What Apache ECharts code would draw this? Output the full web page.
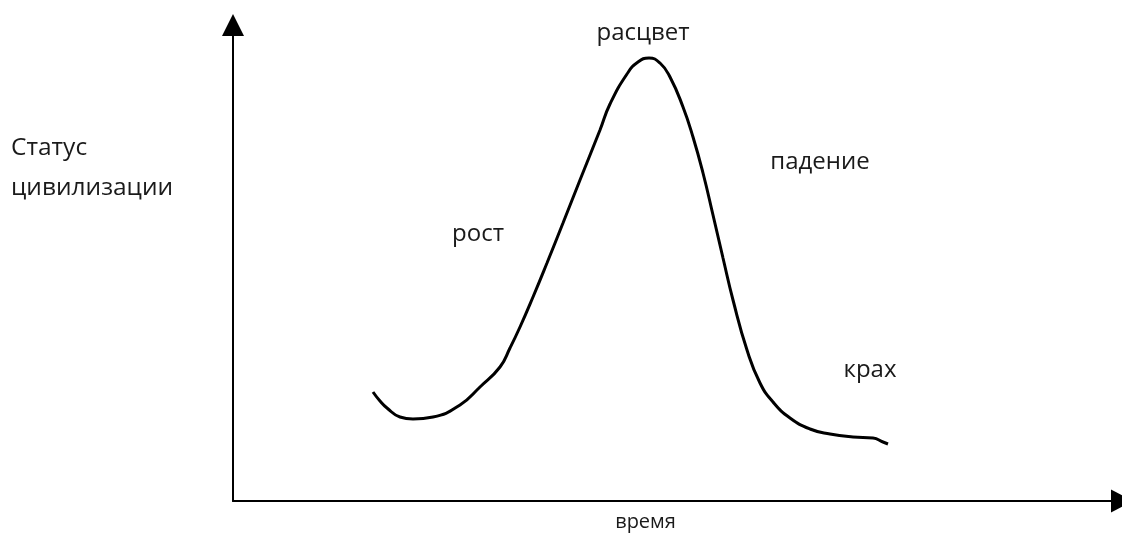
<!DOCTYPE html>
<html>
<head>
<meta charset="utf-8">
<script src="https://cdn.jsdelivr.net/npm/echarts@6/dist/echarts.min.js"></script>
<style>
  html, body { margin: 0; padding: 0; background: #fff; }
  #chart { width: 1122px; height: 534px; }
</style>
</head>
<body>
<div id="chart"></div>
<script>
// time (arbitrary units) and civilisation status
var timeValues = [140, 147, 154, 167, 180, 200, 227, 247, 267, 277, 287, 300, 314, 330, 347, 367, 377, 394, 405, 416, 427, 437, 450, 460, 470, 480, 490, 500, 514, 527, 540, 557, 577, 597, 620, 640, 650, 655];
var statusValues = [109, 100, 93, 84, 82, 84, 96, 114, 134, 153, 174, 204, 238, 278, 321, 371, 397, 427, 439, 443, 438, 424, 394, 364, 328, 286, 243, 201, 151, 118, 99, 83, 72, 67, 64, 63, 59, 57];

// stage captions
var stageNames = ["расцвет", "падение", "рост", "крах"];
var stageX = [410, 587, 245, 637];
var stageY = [468, 339, 267, 131];

var xMax = 889;
var yMax = 476;

var chart = echarts.init(document.getElementById("chart"));

var curve = timeValues.map(function (t, i) { return [t, statusValues[i]]; });
var stages = stageNames.map(function (n, i) { return [stageX[i], stageY[i], n]; });

var font = "'Open Sans', sans-serif";

var option = {
  animation: false,
  backgroundColor: "#fff",
  grid: {
    left: 233,
    right: 0,
    top: 25,
    bottom: 33,
    outerBoundsMode: "none",
    containLabel: false
  },
  xAxis: {
    type: "value",
    min: 0,
    max: xMax,
    name: "время",
    nameLocation: "middle",
    nameGap: 11,
    nameTextStyle: {
      fontFamily: font,
      fontSize: 20,
      color: "#1a1a1a",
      padding: [0, 64, 0, 0]
    },
    axisLine: {
      lineStyle: { color: "#000", width: 2 },
      symbol: ["none", "triangle"],
      symbolSize: [23, 22]
    },
    axisTick: { show: false },
    axisLabel: { show: false },
    splitLine: { show: false }
  },
  yAxis: {
    type: "value",
    min: 0,
    max: yMax,
    axisLine: {
      show: true,
      lineStyle: { color: "#000", width: 2 },
      symbol: ["none", "triangle"],
      symbolSize: [22, 22]
    },
    axisTick: { show: false },
    axisLabel: { show: false },
    splitLine: { show: false }
  },
  graphic: [{
    type: "text",
    left: 11,
    top: 128,
    style: {
      text: "Статус\nцивилизации",
      font: "24.5px " + font,
      fill: "#1a1a1a",
      lineHeight: 40
    }
  }],
  series: [
    {
      type: "line",
      data: curve,
      smooth: 0.5,
      showSymbol: false,
      lineStyle: { color: "#000", width: 3 }
    },
    {
      type: "scatter",
      data: stages,
      symbolSize: 0,
      itemStyle: { opacity: 1 },
      label: {
        show: true,
        position: "inside",
        formatter: function (p) { return p.data[2]; },
        fontFamily: font,
        fontSize: 24,
        color: "#1a1a1a"
      }
    }
  ]
};

chart.setOption(option);
</script>
</body>
</html>
